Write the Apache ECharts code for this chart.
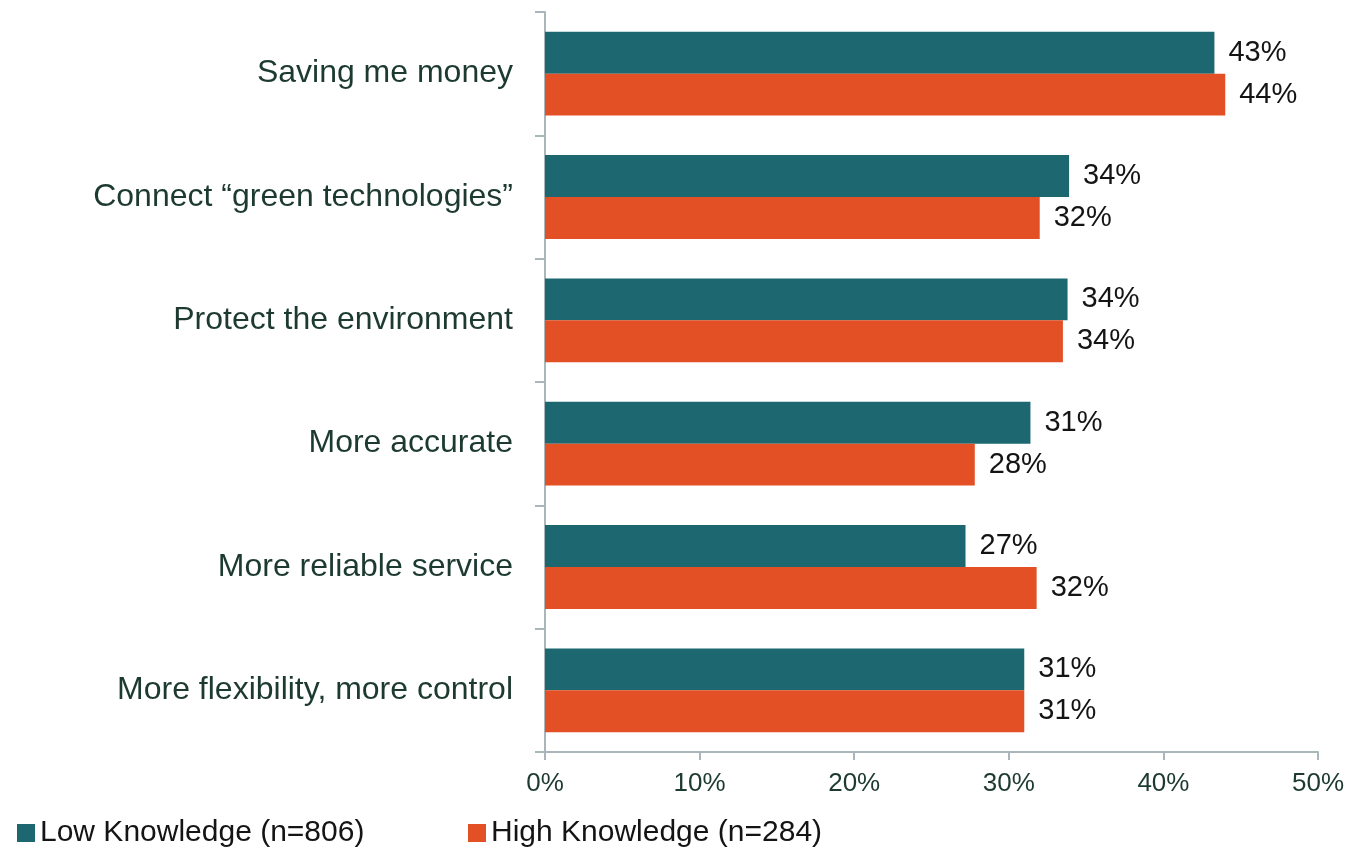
<!DOCTYPE html>
<html>
<head>
<meta charset="utf-8">
<script src="https://cdn.jsdelivr.net/npm/echarts@6/dist/echarts.min.js"></script>
<style>
  html, body { margin: 0; padding: 0; background: #fff; }
  #chart { width: 1355px; height: 848px; }
</style>
</head>
<body>
<div id="chart"></div>
<script>
// Reasons for interest, top to bottom
const categories = [
  'Saving me money',
  'Connect \u201Cgreen technologies\u201D',
  'Protect the environment',
  'More accurate',
  'More reliable service',
  'More flexibility, more control'
];
// Share of respondents (%)
const lowKnowledge  = [43.3, 33.9, 33.8, 31.4, 27.2, 31.0];
const highKnowledge = [44.0, 32.0, 33.5, 27.8, 31.8, 31.0];
const seriesNames = ['Low Knowledge (n=806)', 'High Knowledge (n=284)'];
const xTicks = [0, 10, 20, 30, 40, 50];

const FONT = '"Liberation Sans", Arial, sans-serif';
const AXIS_GRAY = '#a9b7ba';
const TEXT_GREEN = '#1d3a30';
const COLORS = ['#1c6770', '#e35026'];

const chart = echarts.init(document.getElementById('chart'));

const labelCfg = {
  show: true,
  position: 'right',
  distance: 14,
  color: '#141414',
  fontSize: 29,
  fontFamily: FONT,
  formatter: p => Math.round(p.value) + '%'
};

const legendBase = {
  top: 818,
  padding: 0,
  itemWidth: 18,
  itemHeight: 18,
  icon: 'rect',
  textStyle: { fontSize: 30, color: '#141414', fontFamily: FONT }
};

chart.setOption({
  backgroundColor: '#fff',
  animation: false,
  grid: { left: 545, right: 37, top: 12, bottom: 96, containLabel: false },
  legend: [
    Object.assign({}, legendBase, { left: 17, data: [seriesNames[0]] }),
    Object.assign({}, legendBase, { left: 468, data: [seriesNames[1]] })
  ],
  xAxis: {
    type: 'value',
    min: xTicks[0],
    max: xTicks[xTicks.length - 1],
    interval: 10,
    axisLine: { show: true, lineStyle: { color: AXIS_GRAY, width: 2 } },
    axisTick: { show: true, length: 8, lineStyle: { color: AXIS_GRAY, width: 2 } },
    splitLine: { show: false },
    axisLabel: {
      fontSize: 26, color: TEXT_GREEN, fontFamily: FONT, margin: 19,
      formatter: v => v + '%'
    }
  },
  yAxis: {
    type: 'category',
    inverse: true,
    data: categories,
    axisLine: { show: true, lineStyle: { color: AXIS_GRAY, width: 2 } },
    axisTick: { show: true, length: 10, lineStyle: { color: AXIS_GRAY, width: 2 } },
    axisLabel: { fontSize: 32, color: TEXT_GREEN, fontFamily: FONT, margin: 32 }
  },
  series: [
    {
      name: seriesNames[0],
      type: 'bar',
      data: lowKnowledge,
      barGap: '0%',
      barCategoryGap: '32%',
      itemStyle: { color: COLORS[0] },
      label: labelCfg
    },
    {
      name: seriesNames[1],
      type: 'bar',
      data: highKnowledge,
      itemStyle: { color: COLORS[1] },
      label: labelCfg
    }
  ]
});
</script>
</body>
</html>
